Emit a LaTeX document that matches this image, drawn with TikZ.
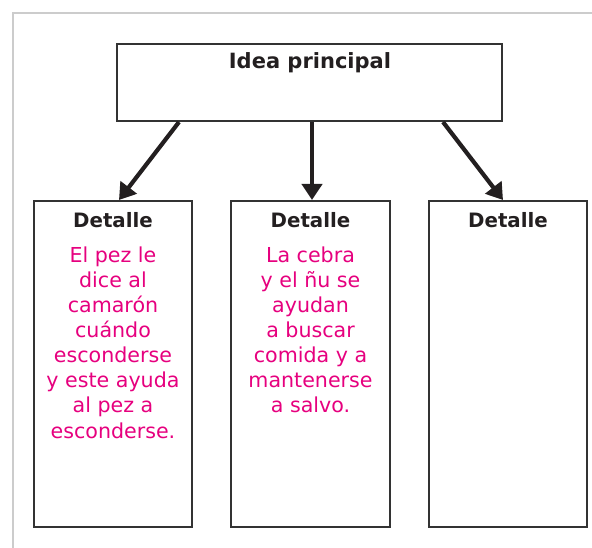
\documentclass[tikz,border=0pt]{standalone}
\usepackage{fontspec}
\setmainfont{DejaVu Sans}
\usetikzlibrary{arrows.meta}
\definecolor{framegray}{HTML}{CCCCCC}
\definecolor{boxline}{HTML}{333333}
\definecolor{arrowcol}{HTML}{231F20}
\definecolor{pinktext}{RGB}{230,0,126}
\tikzset{
  box/.style={draw=boxline, line width=2pt, rectangle, inner sep=0pt},
  heading/.style={anchor=base, text=arrowcol, font=\bfseries\fontsize{19.8}{24}\selectfont, inner sep=0pt},
  detailtext/.style={anchor=north, text=pinktext, align=center, font=\fontsize{20.6}{25.1}\selectfont, inner sep=0pt},
  link/.style={draw=arrowcol, line width=4.2pt, -{Triangle[length=16pt,width=20pt]}}
}
\begin{document}
\begin{tikzpicture}[x=1pt,y=-1pt]
\useasboundingbox (0,0) rectangle (592,548);
% frame
\draw[framegray, line width=2pt] (13,548) -- (13,13) -- (592,13);
% boxes
\node[box, minimum width=385pt, minimum height=77pt] (top) at (309.5,82.5) {};
\node[box, minimum width=158pt, minimum height=326pt] (left) at (113,364) {};
\node[box, minimum width=159pt, minimum height=326pt] (mid) at (310.5,364) {};
\node[box, minimum width=158pt, minimum height=326pt] (right) at (508,364) {};
% headings
\node[heading, font=\bfseries\fontsize{21}{24}\selectfont] (toptitle) at (310,69) {Idea principal};
\node[heading] (lefttitle) at (113,228) {Detalle};
\node[heading] (midtitle) at (310.5,228) {Detalle};
\node[heading] (righttitle) at (508,228) {Detalle};
% detail texts
\node[detailtext] (lefttext) at (113,246.5) {El pez le\\dice al\\camarón\\cuándo\\esconderse\\y este ayuda\\al pez a\\esconderse.};
\node[detailtext] (midtext) at (310.5,246.5) {La cebra\\y el ñu se\\ayudan\\a buscar\\comida y a\\mantenerse\\a salvo.};
% arrows
\draw[link] ([xshift=-130.5pt]top.south) -- ([xshift=6pt]left.north);
\draw[link] ([xshift=2.5pt]top.south) -- ([xshift=1.5pt]mid.north);
\draw[link] ([xshift=133.5pt]top.south) -- ([xshift=-5pt]right.north);
\end{tikzpicture}
\end{document}
